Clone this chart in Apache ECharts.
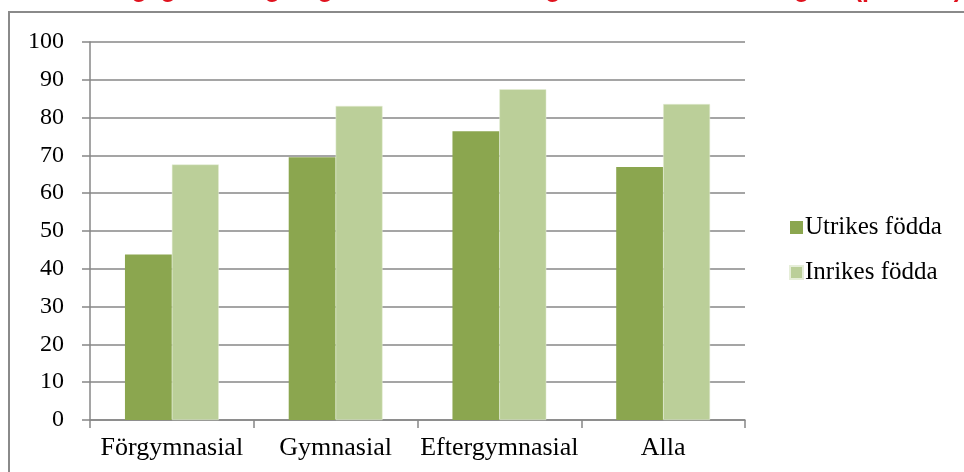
<!DOCTYPE html>
<html>
<head>
<meta charset="utf-8">
<script src="https://cdn.jsdelivr.net/npm/echarts@6/dist/echarts.min.js"></script>
<style>
html,body{margin:0;padding:0;background:#fff;}
#chart{width:964px;height:472px;}
</style>
</head>
<body>
<div id="chart"></div>
<script>
var categories = ['Förgymnasial', 'Gymnasial', 'Eftergymnasial', 'Alla'];
var seriesNames = ['Utrikes födda', 'Inrikes födda'];
var utrikes = [43.8, 69.5, 76.4, 66.9];
var inrikes = [67.6, 83.1, 87.5, 83.6];
var yTicks = [0, 10, 20, 30, 40, 50, 60, 70, 80, 90, 100];
var titleText = 'Sysselsättningsgrad i någon grad efter utbildningsnivå och födelseregion (procent)';

var chart = echarts.init(document.getElementById('chart'), null, {renderer: 'canvas'});
var serif = '"Liberation Serif", "Times New Roman", serif';
chart.setOption({
  animation: false,
  backgroundColor: '#ffffff',
  graphic: [
    {type: 'rect', z: -10, shape: {x: 9, y: 12, width: 1000, height: 500},
     style: {fill: 'none', stroke: '#8a8a8a', lineWidth: 2}},
    {type: 'text', x: 962, y: 3, z: 10,
     style: {text: titleText, fill: '#e0121e', font: 'bold 25px "Liberation Sans", Arial, sans-serif',
             textAlign: 'right', textVerticalAlign: 'bottom'}}
  ],
  grid: {left: 90, right: 219, top: 42, bottom: 52, containLabel: false},
  legend: {
    orient: 'vertical', left: 784, top: 210, itemWidth: 13, itemHeight: 13, itemGap: 20,
    icon: 'rect',
    textStyle: {fontFamily: serif, fontSize: 25, lineHeight: 24, color: '#000', padding: [0, 0, 0, -3]},
    data: seriesNames
  },
  xAxis: {
    type: 'category', data: categories,
    axisLine: {lineStyle: {color: '#878787', width: 1.5}},
    axisTick: {show: true, length: 8, alignWithLabel: false, lineStyle: {color: '#878787', width: 1.5}},
    axisLabel: {fontFamily: serif, fontSize: 26, color: '#000', margin: 15, interval: 0}
  },
  yAxis: {
    type: 'value', min: yTicks[0], max: yTicks[yTicks.length - 1], interval: 10,
    axisLine: {show: true, lineStyle: {color: '#878787', width: 1.5}},
    axisTick: {show: true, length: 8, lineStyle: {color: '#878787', width: 1.5}},
    axisLabel: {fontFamily: serif, fontSize: 24, color: '#000', margin: 26},
    splitLine: {lineStyle: {color: '#878787', width: 1.5}}
  },
  series: [
    {name: seriesNames[0], type: 'bar', data: utrikes, barGap: '0%', barCategoryGap: '42.7%',
     itemStyle: {color: '#8ba64f'}},
    {name: seriesNames[1], type: 'bar', data: inrikes, barGap: '0%', barCategoryGap: '42.7%',
     itemStyle: {color: '#bbcf99', borderColor: '#e6eed9', borderWidth: 0.5}}
  ]
});
</script>
</body>
</html>
